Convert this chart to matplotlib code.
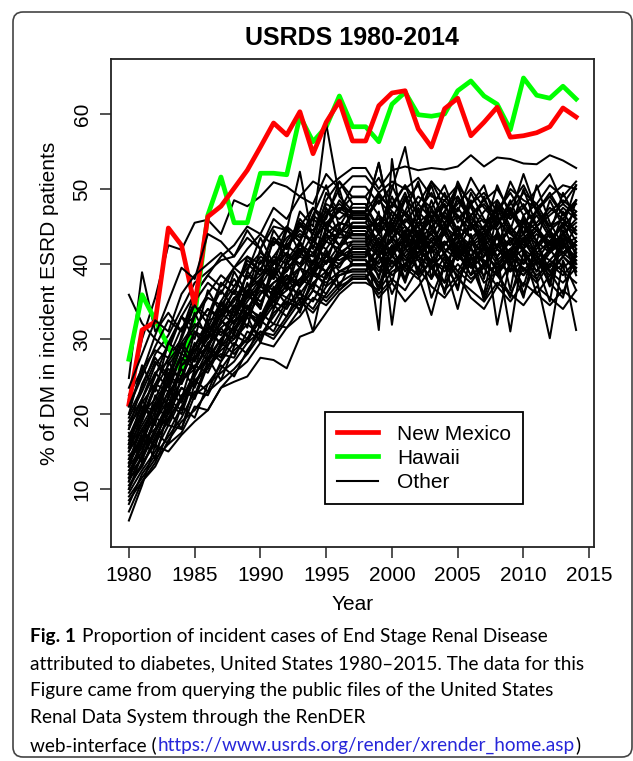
import matplotlib
matplotlib.use("Agg")
import matplotlib.pyplot as plt
from matplotlib.lines import Line2D
from matplotlib.patches import FancyBboxPatch
from matplotlib.transforms import IdentityTransform
import numpy as np

years = np.arange(1980, 2015)

new_mexico = [21.3, 31.2, 32.3, 44.8, 42.5, 34.5, 46.3, 47.7, 50.1, 52.5, 55.6, 58.8,
              57.2, 60.3, 54.7, 58.9, 61.7, 56.4, 56.4, 61.1, 62.8, 63.1, 58.0, 55.6,
              60.7, 62.1, 57.1, 58.9, 60.9, 56.9, 57.1, 57.5, 58.3, 60.8, 59.6]

hawaii = [27.3, 35.9, 32.5, 29.0, 25.5, 33.0, 46.5, 51.6, 45.5, 45.5, 52.1, 52.1,
          51.9, 59.7, 56.3, 58.3, 62.4, 58.3, 58.3, 56.3, 61.3, 62.9, 59.9, 59.7,
          60.0, 63.1, 64.4, 62.4, 61.3, 57.9, 64.8, 62.5, 62.1, 63.7, 62.0]

# remaining states, one row per state, 1980-2014
other_states = [
    [22.0, 30.0, 35.5, 42.5, 41.9, 45.5, 45.9, 44.0, 48.5, 47.7, 49.0, 50.9, 50.3, 49.0, 51.0, 50.0, 51.5, 52.8, 52.8, 50.0, 52.5, 53.0, 52.5, 52.8, 52.6, 53.0, 54.5, 53.0, 54.2, 54.0, 53.4, 53.3, 54.5, 53.8, 52.8],
    [18.0, 22.0, 26.5, 29.0, 33.0, 36.0, 38.5, 41.0, 42.5, 45.0, 44.0, 47.5, 46.0, 49.0, 48.0, 52.0, 50.0, 51.7, 51.7, 49.5, 51.0, 50.0, 51.5, 49.0, 48.5, 50.5, 48.0, 49.5, 47.0, 50.0, 48.5, 47.5, 49.0, 50.5, 50.0],
    [16.0, 21.5, 24.0, 27.5, 30.0, 34.5, 33.0, 37.5, 36.0, 40.5, 39.0, 43.0, 42.0, 45.5, 44.0, 48.0, 47.0, 50.3, 50.3, 48.0, 50.5, 46.5, 49.0, 47.5, 50.5, 46.0, 48.0, 45.5, 47.0, 49.5, 46.5, 48.0, 45.0, 47.5, 46.0],
    [13.0, 15.5, 19.0, 23.0, 25.0, 28.5, 30.5, 33.0, 35.5, 37.0, 38.5, 41.0, 43.5, 45.0, 47.5, 46.0, 51.0, 48.9, 48.9, 46.5, 44.0, 48.5, 47.0, 45.0, 47.0, 44.5, 46.5, 48.0, 45.5, 47.0, 44.0, 45.5, 47.5, 46.0, 48.5],
    [12.0, 14.0, 17.5, 21.0, 24.5, 26.0, 29.0, 31.5, 33.0, 36.5, 38.0, 40.0, 42.5, 44.0, 43.0, 46.5, 48.0, 46.8, 46.8, 44.0, 47.0, 45.0, 43.5, 46.0, 44.5, 42.0, 45.0, 43.5, 46.0, 44.0, 42.5, 44.5, 43.0, 45.5, 44.0],
    [20.0, 23.5, 28.0, 30.5, 34.0, 37.5, 39.0, 40.5, 41.0, 43.5, 42.0, 45.0, 44.5, 43.0, 46.5, 45.0, 47.5, 46.2, 46.2, 49.0, 47.5, 50.5, 48.0, 51.0, 47.5, 49.0, 46.5, 48.5, 50.0, 47.0, 49.5, 48.0, 50.5, 49.0, 51.0],
    [10.0, 13.5, 16.0, 19.5, 22.0, 25.5, 27.0, 30.0, 32.5, 33.0, 36.0, 37.5, 39.0, 41.5, 40.0, 43.5, 44.0, 45.5, 45.5, 43.0, 41.5, 44.0, 42.0, 40.5, 43.0, 41.0, 39.5, 42.5, 40.0, 42.0, 39.0, 41.5, 40.5, 42.5, 41.0],
    [24.8, 38.9, 31.0, 33.5, 31.0, 36.0, 38.5, 37.0, 39.5, 38.0, 41.0, 40.0, 42.5, 41.0, 44.0, 43.0, 45.5, 44.8, 44.8, 46.0, 44.5, 47.0, 45.0, 46.5, 44.0, 47.5, 45.0, 46.0, 44.5, 46.5, 45.5, 47.0, 45.0, 46.0, 44.5],
    [15.0, 18.0, 21.0, 24.5, 27.0, 29.0, 32.5, 33.0, 35.0, 38.5, 37.0, 40.0, 41.5, 40.0, 43.0, 42.0, 44.5, 44.0, 44.0, 46.5, 45.0, 43.0, 45.5, 44.0, 46.5, 43.5, 45.0, 44.0, 42.5, 45.0, 43.0, 44.5, 42.0, 44.0, 45.5],
    [17.0, 19.5, 24.0, 23.0, 28.0, 31.0, 30.0, 34.5, 33.0, 36.0, 39.5, 38.0, 41.0, 40.0, 42.5, 41.0, 44.0, 43.4, 43.4, 41.0, 43.5, 45.0, 42.0, 44.0, 41.5, 43.0, 45.5, 42.5, 41.0, 43.5, 42.0, 40.5, 43.0, 41.5, 42.5],
    [35.9, 32.1, 30.0, 28.5, 33.0, 31.5, 34.0, 32.5, 35.5, 34.0, 37.0, 36.0, 38.5, 37.5, 40.0, 39.0, 41.5, 42.6, 42.6, 41.0, 43.5, 42.0, 44.5, 43.0, 41.5, 44.0, 42.5, 43.5, 41.0, 43.0, 42.0, 44.0, 42.5, 41.5, 43.0],
    [11.0, 14.5, 18.0, 21.5, 20.0, 25.0, 28.5, 27.0, 31.0, 33.5, 32.0, 35.5, 38.0, 37.0, 39.5, 41.0, 40.0, 42.0, 42.0, 40.0, 42.5, 41.0, 39.5, 42.0, 40.5, 38.5, 41.0, 39.5, 42.0, 40.0, 38.5, 40.5, 39.0, 41.0, 39.5],
    [8.0, 12.0, 14.5, 17.0, 19.5, 23.0, 22.5, 26.0, 28.5, 30.0, 32.5, 31.0, 34.5, 36.0, 35.0, 38.5, 40.0, 41.3, 41.3, 43.0, 40.0, 42.0, 44.0, 41.5, 43.0, 40.5, 42.5, 44.5, 41.0, 43.0, 40.5, 42.0, 44.0, 42.5, 43.5],
    [19.0, 22.0, 25.5, 27.0, 29.5, 32.0, 31.0, 34.0, 33.5, 36.5, 35.0, 37.5, 38.5, 37.0, 40.5, 39.0, 41.5, 40.6, 40.6, 38.5, 41.0, 39.5, 38.0, 40.5, 39.0, 41.5, 38.5, 40.0, 38.5, 41.0, 39.5, 37.5, 40.0, 38.5, 40.5],
    [13.5, 17.0, 16.5, 21.0, 23.5, 22.0, 26.5, 28.0, 27.5, 31.0, 30.0, 33.5, 35.0, 34.0, 37.5, 36.0, 39.0, 40.0, 40.0, 37.5, 39.5, 42.0, 40.5, 38.0, 41.0, 39.0, 37.5, 40.0, 38.5, 36.0, 39.5, 38.0, 40.5, 39.0, 37.5],
    [9.5, 12.5, 15.0, 18.5, 18.0, 22.5, 24.0, 25.5, 27.0, 29.5, 31.0, 30.5, 33.0, 35.5, 34.0, 37.0, 38.5, 39.3, 39.3, 37.0, 40.5, 38.0, 41.0, 39.5, 37.5, 40.0, 38.0, 39.5, 37.0, 40.0, 38.5, 41.0, 39.0, 37.5, 39.5],
    [7.0, 11.0, 13.0, 16.5, 19.0, 20.5, 23.0, 24.5, 26.0, 28.0, 30.5, 32.0, 31.5, 34.0, 36.5, 35.5, 37.5, 38.6, 38.6, 36.0, 38.0, 36.5, 39.5, 37.0, 35.5, 38.0, 36.5, 35.0, 37.5, 36.0, 34.5, 37.0, 35.5, 34.0, 36.5],
    [12.5, 15.0, 19.5, 18.5, 22.0, 24.5, 26.0, 29.5, 28.0, 30.0, 33.5, 32.0, 35.0, 34.0, 36.5, 35.0, 37.0, 38.0, 38.0, 40.5, 42.0, 39.0, 41.5, 43.0, 40.0, 42.5, 39.5, 41.0, 43.5, 40.5, 42.0, 39.0, 41.5, 43.0, 40.0],
    [5.8, 10.5, 15.8, 15.0, 17.2, 19.0, 20.5, 23.5, 24.3, 25.0, 27.5, 27.2, 26.1, 30.3, 31.0, 33.5, 36.0, 37.5, 37.5, 36.5, 39.0, 40.0, 38.5, 40.5, 39.5, 41.0, 40.0, 38.5, 40.0, 39.0, 40.5, 38.5, 40.0, 41.5, 40.0],
    [21.0, 25.0, 29.0, 32.5, 31.0, 35.0, 37.5, 36.0, 39.5, 41.0, 40.0, 43.5, 42.0, 45.0, 44.5, 47.0, 46.0, 47.5, 47.5, 45.0, 48.0, 46.5, 44.0, 47.0, 45.5, 48.5, 46.0, 44.5, 47.5, 46.0, 48.0, 45.0, 47.0, 48.5, 47.0],
    [16.5, 20.0, 22.0, 26.0, 25.0, 29.0, 31.5, 30.5, 33.0, 35.5, 37.0, 36.0, 39.5, 41.0, 40.0, 43.0, 42.0, 44.4, 44.4, 42.0, 45.0, 43.0, 41.5, 44.5, 42.5, 45.0, 43.5, 41.0, 44.0, 42.5, 45.5, 43.0, 41.5, 44.0, 42.5],
    [14.5, 16.0, 20.5, 22.0, 26.5, 27.5, 30.0, 32.0, 34.5, 33.0, 36.0, 38.5, 37.0, 39.5, 41.5, 40.0, 42.5, 43.0, 43.0, 45.5, 43.5, 46.0, 44.0, 42.0, 45.0, 43.5, 41.0, 44.0, 46.5, 43.0, 45.0, 42.5, 44.5, 42.0, 45.0],
    [10.5, 13.0, 17.0, 20.0, 23.5, 22.5, 27.0, 29.0, 30.5, 29.5, 33.0, 35.0, 36.5, 38.0, 37.0, 40.5, 39.5, 42.3, 42.3, 44.0, 41.5, 43.5, 45.0, 42.0, 44.5, 41.5, 43.0, 45.0, 42.0, 40.5, 43.5, 45.0, 42.5, 44.0, 46.0],
    [15.5, 18.5, 21.5, 25.0, 24.0, 27.5, 29.0, 32.5, 31.0, 34.0, 36.5, 35.0, 38.0, 39.5, 38.5, 41.0, 40.5, 41.6, 41.6, 39.0, 42.0, 44.5, 41.0, 43.0, 45.5, 42.0, 40.0, 42.5, 44.0, 41.0, 43.5, 41.0, 39.5, 42.5, 40.5],
    [12.0, 16.5, 18.0, 20.5, 24.5, 26.5, 25.5, 29.0, 31.5, 30.0, 32.5, 35.0, 34.0, 37.0, 39.0, 38.0, 41.5, 40.9, 40.9, 43.5, 41.0, 39.5, 42.5, 44.0, 41.5, 39.0, 42.0, 40.5, 38.5, 41.5, 40.0, 42.5, 44.0, 41.0, 43.0],
    [18.5, 21.0, 20.5, 24.0, 27.5, 26.0, 29.5, 31.0, 30.0, 33.5, 32.5, 35.5, 37.0, 36.0, 38.5, 37.5, 39.0, 39.8, 39.8, 42.0, 39.5, 41.5, 43.5, 40.0, 42.5, 44.5, 41.0, 43.0, 40.5, 42.0, 44.0, 41.5, 43.0, 45.0, 42.0],
    [22.5, 26.0, 28.5, 27.5, 31.5, 33.0, 35.5, 34.5, 37.0, 39.5, 41.5, 40.0, 42.5, 44.5, 43.0, 45.5, 47.0, 46.0, 46.0, 48.5, 46.5, 44.0, 47.0, 49.5, 46.0, 48.0, 50.0, 47.5, 45.5, 48.0, 50.5, 47.0, 49.0, 46.5, 48.5],
    [13.0, 17.5, 21.0, 24.0, 28.0, 27.0, 30.5, 33.5, 32.0, 35.0, 37.5, 36.5, 40.0, 42.0, 41.0, 44.0, 45.5, 45.0, 45.0, 42.5, 44.5, 47.0, 44.0, 46.0, 48.0, 44.5, 46.5, 43.5, 45.5, 47.5, 44.0, 46.5, 43.5, 45.0, 47.0],
    [16.0, 19.0, 23.5, 26.5, 29.0, 31.5, 34.0, 33.0, 36.5, 35.5, 38.0, 40.5, 39.0, 42.0, 41.0, 44.5, 43.5, 43.8, 43.8, 41.5, 43.0, 40.5, 42.5, 39.5, 41.5, 43.5, 40.0, 42.0, 39.0, 41.0, 43.0, 40.5, 38.5, 41.0, 39.0],
    [9.0, 11.5, 14.0, 16.0, 17.5, 21.0, 20.5, 23.5, 25.5, 27.0, 29.5, 29.0, 31.5, 33.0, 35.5, 34.5, 36.5, 38.3, 38.3, 35.5, 37.5, 35.0, 37.0, 39.5, 36.5, 38.5, 35.5, 34.0, 37.0, 35.0, 37.5, 36.0, 34.5, 36.5, 35.0],
    [15.5, 22.0, 18.5, 27.0, 24.0, 31.0, 28.5, 35.0, 33.0, 39.0, 37.0, 43.5, 41.0, 47.0, 45.0, 58.7, 49.0, 47.0, 47.0, 53.5, 45.0, 49.0, 43.0, 48.5, 44.0, 50.5, 45.5, 42.0, 48.0, 44.5, 50.0, 45.0, 41.5, 47.0, 44.0],
    [20.0, 26.5, 23.0, 29.5, 33.0, 30.0, 36.5, 33.5, 39.0, 36.0, 42.0, 38.5, 44.5, 52.3, 43.0, 48.5, 51.0, 48.0, 48.0, 44.0, 50.0, 55.6, 46.0, 50.5, 45.0, 51.0, 47.5, 44.5, 50.5, 46.5, 52.0, 47.0, 44.0, 49.5, 46.0],
    [11.5, 16.0, 21.5, 19.0, 25.0, 29.5, 27.0, 32.5, 30.5, 36.0, 34.0, 40.5, 37.0, 43.0, 40.0, 46.5, 50.0, 44.0, 44.0, 31.2, 54.0, 42.0, 47.5, 38.0, 45.0, 41.0, 48.5, 39.5, 44.0, 36.5, 46.0, 40.0, 35.0, 44.5, 39.0],
    [17.5, 13.5, 20.0, 25.5, 22.0, 28.0, 32.0, 29.0, 34.5, 31.5, 38.0, 34.0, 40.5, 37.0, 43.5, 40.0, 45.0, 41.0, 41.0, 47.0, 31.9, 44.5, 39.0, 46.0, 41.0, 36.5, 44.0, 38.0, 47.0, 40.0, 35.5, 43.0, 37.5, 45.5, 41.0],
    [14.0, 18.0, 15.5, 22.5, 26.0, 23.5, 28.0, 31.5, 29.0, 33.5, 31.5, 37.0, 34.5, 39.5, 36.5, 41.5, 39.0, 39.0, 39.0, 43.0, 37.5, 44.0, 38.5, 42.5, 36.0, 43.0, 40.0, 35.5, 41.0, 31.0, 42.0, 38.0, 30.1, 40.5, 36.5],
    [10.0, 14.5, 17.5, 16.0, 21.0, 24.5, 23.0, 27.0, 29.5, 28.0, 32.0, 34.5, 33.0, 36.5, 31.0, 39.0, 36.5, 38.0, 38.0, 41.5, 36.0, 40.0, 38.5, 33.2, 40.0, 34.0, 41.0, 37.5, 39.0, 35.5, 41.5, 36.0, 38.5, 40.0, 31.2],
    [12.0, 15.0, 19.0, 22.0, 20.5, 26.0, 29.0, 27.5, 32.0, 34.5, 32.5, 36.0, 38.5, 35.0, 39.0, 37.0, 42.0, 40.0, 40.0, 37.0, 42.5, 38.0, 44.0, 40.0, 36.5, 42.0, 38.5, 43.5, 31.9, 40.5, 37.0, 43.0, 39.0, 36.0, 41.5],
    [18.0, 24.0, 27.5, 25.0, 30.5, 34.5, 32.0, 37.5, 36.0, 41.0, 39.0, 44.5, 42.0, 46.0, 44.0, 49.5, 47.0, 49.0, 49.0, 51.5, 48.0, 50.5, 46.0, 51.0, 49.0, 47.0, 51.5, 48.5, 46.0, 51.0, 47.5, 50.0, 52.0, 48.0, 50.5],
    [13.5, 16.5, 22.5, 20.0, 26.5, 28.5, 31.0, 29.5, 34.0, 36.0, 34.5, 39.0, 41.5, 39.5, 43.0, 45.5, 44.0, 47.0, 47.0, 53.5, 45.0, 48.5, 50.5, 46.0, 49.5, 45.5, 48.0, 50.5, 45.0, 48.5, 44.0, 47.0, 49.5, 46.5, 48.0],
    [21.0, 25.5, 30.5, 35.0, 39.5, 38.0, 44.0, 43.0, 41.0, 44.5, 42.0, 46.0, 44.5, 43.0, 47.5, 45.0, 48.5, 46.5, 46.5, 44.0, 46.0, 43.5, 45.5, 47.0, 44.5, 46.5, 43.5, 45.0, 47.5, 44.0, 46.0, 44.5, 42.5, 45.5, 44.0],
    [16.0, 20.5, 25.0, 29.5, 28.0, 33.0, 36.0, 38.5, 37.0, 40.0, 38.5, 41.0, 40.0, 42.5, 41.5, 44.0, 42.5, 44.0, 44.0, 41.5, 43.5, 41.0, 43.0, 45.0, 42.0, 40.5, 43.0, 41.5, 39.5, 42.0, 40.0, 42.5, 44.5, 41.5, 43.0],
    [8.5, 11.0, 13.5, 17.5, 21.0, 19.5, 24.0, 26.5, 25.0, 28.5, 31.0, 30.0, 32.5, 35.0, 33.5, 36.0, 38.5, 39.0, 39.0, 41.0, 38.5, 40.0, 42.5, 39.5, 41.5, 38.0, 40.5, 42.0, 39.0, 41.5, 43.5, 40.0, 42.0, 39.5, 41.0],
    [11.5, 13.0, 16.5, 19.0, 22.5, 24.0, 26.5, 28.5, 30.0, 32.0, 30.5, 33.0, 35.5, 34.5, 37.5, 39.0, 41.0, 42.0, 42.0, 39.5, 41.0, 43.5, 40.5, 42.0, 44.0, 41.0, 43.0, 40.0, 42.5, 44.5, 41.5, 39.0, 42.0, 44.0, 41.5],
    [14.0, 17.0, 19.5, 23.0, 21.5, 25.5, 27.5, 30.0, 31.5, 34.0, 33.0, 36.5, 35.5, 38.0, 40.0, 39.0, 42.0, 45.0, 45.0, 42.5, 45.5, 43.0, 41.0, 43.5, 41.5, 44.0, 42.0, 40.0, 42.5, 40.5, 43.0, 45.0, 42.0, 44.0, 40.0],
    [23.5, 28.0, 32.5, 31.0, 36.0, 38.5, 40.0, 41.5, 39.5, 42.0, 44.0, 42.5, 45.0, 43.5, 46.0, 44.5, 47.5, 47.0, 47.0, 49.5, 47.0, 45.5, 48.0, 46.0, 48.5, 46.5, 44.5, 47.0, 48.5, 46.0, 47.5, 45.0, 46.5, 48.0, 46.5],
    [17.0, 21.0, 19.0, 24.5, 29.0, 26.0, 31.5, 35.0, 32.0, 37.5, 34.0, 39.5, 36.5, 42.0, 38.5, 44.0, 41.0, 43.0, 43.0, 38.0, 45.5, 39.5, 46.5, 41.0, 37.5, 45.0, 40.0, 36.0, 44.5, 39.0, 46.0, 41.5, 37.0, 43.5, 38.5],
    [13.0, 19.5, 23.5, 21.0, 27.0, 31.0, 28.5, 33.5, 36.5, 33.0, 38.0, 35.5, 40.5, 43.0, 39.0, 45.0, 42.5, 45.5, 45.5, 49.5, 43.0, 47.0, 51.0, 44.5, 48.0, 43.5, 49.5, 46.0, 42.0, 47.5, 44.0, 50.5, 45.5, 42.5, 48.5],
    [19.5, 23.0, 27.0, 24.5, 29.5, 27.0, 33.0, 36.5, 34.0, 39.0, 43.5, 40.0, 45.0, 41.5, 46.5, 50.5, 45.0, 48.0, 48.0, 44.5, 49.0, 45.0, 42.5, 47.5, 44.0, 49.0, 45.5, 43.0, 48.5, 45.0, 42.0, 47.5, 44.5, 46.0, 43.0],
    [11.0, 17.0, 14.0, 20.5, 18.0, 24.0, 27.5, 24.5, 29.0, 33.0, 29.5, 34.0, 37.5, 33.5, 38.5, 42.0, 37.0, 40.5, 40.5, 36.5, 41.5, 37.5, 43.0, 35.5, 40.0, 37.0, 42.5, 35.0, 39.5, 42.0, 36.0, 40.5, 37.5, 35.5, 42.0],
    [15.0, 20.0, 25.5, 23.5, 28.0, 33.5, 30.0, 35.0, 38.0, 35.5, 40.5, 38.0, 43.0, 45.5, 42.0, 47.5, 44.0, 46.5, 46.5, 42.0, 46.0, 49.5, 45.0, 41.5, 47.0, 50.5, 45.0, 49.0, 44.5, 41.0, 46.5, 43.0, 48.5, 45.0, 50.5],
]

plt.rcParams['font.family'] = ['Liberation Sans', 'DejaVu Sans']

W, H = 633, 761
fig = plt.figure(figsize=(W / 100, H / 100), dpi=100)
ax = fig.add_axes([111 / W, 1 - 547 / H, (594 - 111) / W, (547 - 59) / H])

# draw in state order: black, Hawaii, black, New Mexico, black
for k, row in enumerate(other_states):
    if k == 11:
        ax.plot(years, hawaii, color='#00ff00', lw=3.4, zorder=2)
    if k == 31:
        ax.plot(years, new_mexico, color='#ff0000', lw=3.4, zorder=2)
    ax.plot(years, row, color='black', lw=1.45, zorder=2)

ax.set_xlim(1978.64, 2015.36)
ax.set_ylim(2.27, 67.33)
ax.set_xticks(np.arange(1980, 2016, 5))
ax.set_yticks(np.arange(10, 61, 10))
ax.tick_params(labelsize=15, length=8, width=1.1, color='#222222', pad=6)
for lab in ax.get_yticklabels():
    lab.set_rotation(90)
    lab.set_va('center')
for s in ax.spines.values():
    s.set_linewidth(1.3)
    s.set_color('#222222')

ax.set_xlabel('Year', fontsize=15, labelpad=7)
ax.set_ylabel('% of DM in incident ESRD patients', fontsize=15, labelpad=10)

handles = [Line2D([], [], color='#ff0000', lw=3.4),
           Line2D([], [], color='#00ff00', lw=3.4),
           Line2D([], [], color='black', lw=1.5)]
leg = ax.legend(handles, ['New Mexico', 'Hawaii', 'Other'], loc='upper left',
                bbox_to_anchor=(0.443, 0.2766), borderaxespad=0, fontsize=15,
                fancybox=False, framealpha=1, edgecolor='black',
                handlelength=1.95, handletextpad=0.9, borderpad=0.6,
                labelspacing=0.25)
leg.get_frame().set_linewidth(1.3)

fig.text(352 / W, 1 - 38 / H, 'USRDS 1980-2014', fontsize=18, fontweight='bold',
         ha='center', va='center')

# outer rounded frame
frame = FancyBboxPatch((13, 4), 619, 745, boxstyle='round,pad=0,rounding_size=10',
                       transform=IdentityTransform(), fill=False, edgecolor='#444444',
                       lw=1.2)
fig.patches.append(frame)

cap_font = dict(family=['Lato', 'DejaVu Sans'], fontsize=13.7, va='baseline')
base = [642, 669, 696, 723, 751]
x0 = 30 / W
fig.canvas.draw()
r = fig.canvas.get_renderer()

t = fig.text(x0, 1 - base[0] / H, 'Fig. 1', fontweight='bold', **cap_font)
wpx = t.get_window_extent(r).width
fig.text(x0 + (wpx + 6) / W, 1 - base[0] / H,
         'Proportion of incident cases of End Stage Renal Disease', **cap_font)
fig.text(x0, 1 - base[1] / H,
         'attributed to diabetes, United States 1980\u20132015. The data for this', **cap_font)
fig.text(x0, 1 - base[2] / H,
         'Figure came from querying the public files of the United States', **cap_font)
fig.text(x0, 1 - base[3] / H, 'Renal Data System through the RenDER', **cap_font)
t = fig.text(x0, 1 - base[4] / H, 'web-interface (', **cap_font)
wpx = t.get_window_extent(r).width
t2 = fig.text(x0 + (wpx + 1) / W, 1 - base[4] / H,
              'https://www.usrds.org/render/xrender_home.asp', color='#2626d9', **cap_font)
w2 = t2.get_window_extent(r).width
fig.text(x0 + (wpx + w2 + 2) / W, 1 - base[4] / H, ')', **cap_font)

fig.savefig('out.png', dpi=100)
